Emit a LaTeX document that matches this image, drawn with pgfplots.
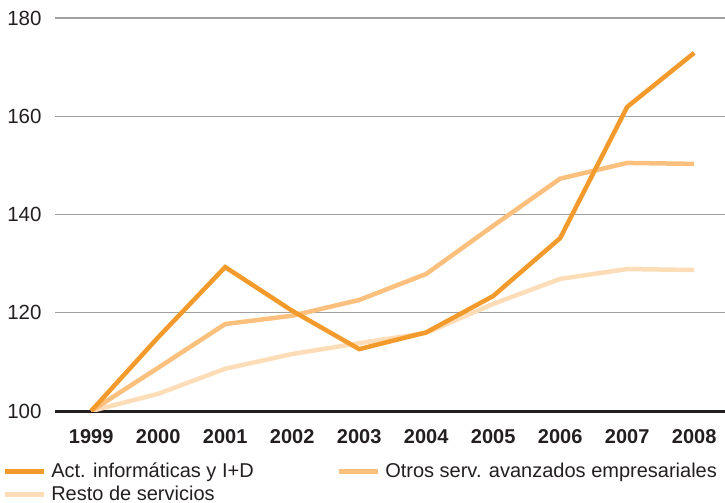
\documentclass[border=0pt]{standalone}
\usepackage{fontspec}
\setmainfont{Liberation Sans}
\usepackage{pgfplots}
\pgfplotsset{compat=1.18}
\definecolor{c1}{HTML}{F39A2C}
\definecolor{c2}{HTML}{FBC07E}
\definecolor{c3}{HTML}{FDDDB7}
\definecolor{txt}{HTML}{231F20}
\definecolor{gridc}{HTML}{A0A0A0}
\begin{document}
\begin{tikzpicture}
\useasboundingbox (-55bp,-92bp) rectangle (670bp,411bp);
\begin{axis}[
 scale only axis, width=670bp, height=393bp,
 anchor=south west, at={(0,0)},
 xmin=1998.46, xmax=2008.46, ymin=100, ymax=180,
 xtick={1999,2000,2001,2002,2003,2004,2005,2006,2007,2008},
 xticklabels={1999,2000,2001,2002,2003,2004,2005,2006,2007,2008},
 ytick={120,140,160,180},
 extra y ticks={100},
 extra y tick style={grid style={txt, line width=3bp}},
 ymajorgrids, grid style={gridc, line width=1.3bp},
 axis line style={draw=none},
 major tick length=0pt,
 tick label style={text=txt, font=\fontsize{20.5bp}{24bp}\selectfont},
 x tick label style={font=\fontsize{20bp}{24bp}\selectfont\bfseries, yshift=-15bp},
 y tick label style={xshift=-10bp},
 /pgf/number format/assume math mode=true,
 legend columns=2,
 legend style={draw=none, fill=none, inner sep=0pt, column sep=5bp, row sep=0pt,
   at={(axis description cs:-0.079,-0.123)}, anchor=north west,
   font=\fontsize{20bp}{24bp}\selectfont, text=txt,
   nodes={inner xsep=0bp, inner ysep=3.5bp, anchor=west}},
 legend cell align=left,
 legend image code/.code={\draw[#1, line width=5bp] (0bp,0bp) -- (39bp,0bp);},
 every axis plot/.append style={line width=4.5bp, line join=miter, mark=none},
]
\addplot[c3, forget plot] coordinates {(1999,100) (2000,103.5) (2001,108.6) (2002,111.6) (2003,113.8) (2004,115.9) (2005,121.8) (2006,126.9) (2007,128.9) (2008,128.7)};
\addplot[c2, forget plot] coordinates {(1999,100) (2000,108.8) (2001,117.7) (2002,119.4) (2003,122.6) (2004,127.9) (2005,137.7) (2006,147.3) (2007,150.5) (2008,150.3)};
\addplot[c1, forget plot] coordinates {(1999,100) (2000,115.0) (2001,129.3) (2002,120.4) (2003,112.6) (2004,116.0) (2005,123.4) (2006,135.2) (2007,161.9) (2008,172.9)};
\addlegendimage{c1}
\addlegendentry{\makebox[280bp][l]{Act. informáticas y I+D}}
\addlegendimage{c2}
\addlegendentry{Otros serv. avanzados empresariales}
\addlegendimage{c3}
\addlegendentry{Resto de servicios}
\end{axis}
\end{tikzpicture}
\end{document}
